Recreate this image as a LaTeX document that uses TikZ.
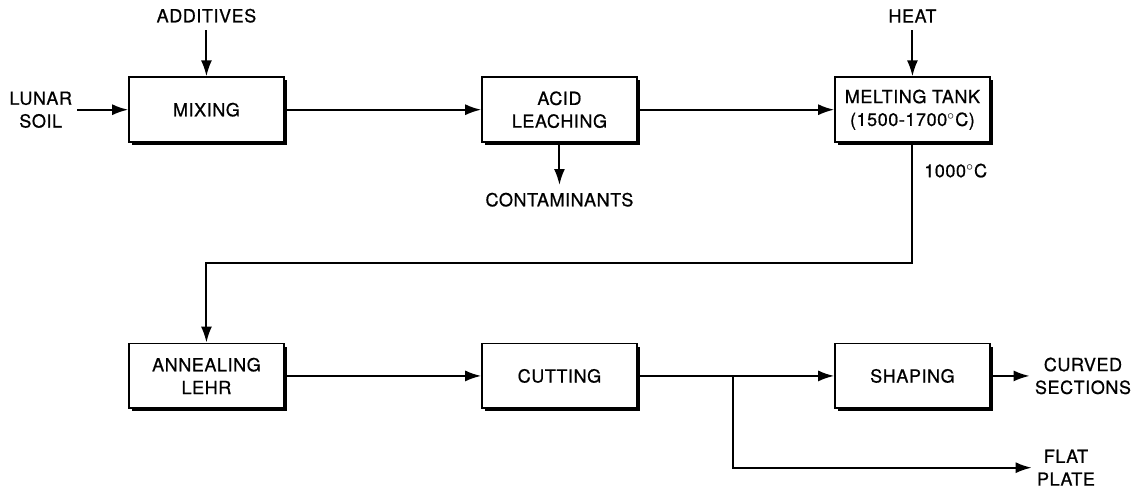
\documentclass[tikz,border=0pt]{standalone}
\usepackage{fontspec}
\setmainfont{TeX Gyre Heros}[UprightFeatures={FakeBold=0.7}, LetterSpace=3]
\usepackage{tikz}
\usetikzlibrary{arrows.meta, positioning, shadows, calc}

\begin{document}
\begin{tikzpicture}[
    font=\fontsize{10.3}{13}\selectfont,
    >={Latex[length=3.2mm, width=2.2mm]},
    node distance=40mm and 39.4mm,
    box/.style={draw, line width=1.1pt, minimum width=31mm, minimum height=13mm, align=center, fill=white,
        drop shadow={shadow xshift=0.6mm, shadow yshift=-0.6mm, fill=black, opacity=1}},
    outlbl/.style={align=center, inner sep=1mm},
    flow/.style={->, line width=1.1pt}
]

% ===== TOP ROW =====
\node[box] (mixing) {MIXING};
\node[box, right=of mixing] (acid) {ACID\\LEACHING};
\node[box, right=of acid] (melt) {MELTING TANK\\(1500-1700$^\circ$C)};

% ===== BOTTOM ROW =====
\node[box, below=of mixing] (anneal) {ANNEALING\\LEHR};
\node[box, right=of anneal] (cut) {CUTTING};
\node[box, right=of cut] (shape) {SHAPING};

% ===== INPUTS AND OUTPUTS =====
\node[outlbl, left=10.2mm of mixing] (soil) {LUNAR\\SOIL};
\node[outlbl, inner sep=1.5mm, above=9.2mm of mixing] (additives) {ADDITIVES};
\node[outlbl, inner sep=1.5mm, below=8.4mm of acid] (contam) {CONTAMINANTS};
\node[outlbl, inner sep=1.5mm, above=9.2mm of melt] (heat) {HEAT};
\node[outlbl, right=7.8mm of shape] (curved) {CURVED\\SECTIONS};

% Branch point after cutting
\coordinate[right=19.2mm of cut.east] (split);
\node[outlbl, below right=18.4mm and 59.8mm of split, anchor=west] (flat) {FLAT\\PLATE};

% ===== CONNECTIONS =====
\draw[flow] (soil) -- (mixing);
\draw[flow] (additives) -- (mixing);
\draw[flow] (mixing) -- (acid);
\draw[flow] (acid) -- (contam);
\draw[flow] (acid) -- (melt);
\draw[flow] (heat) -- (melt);

% Melt down to annealing
\draw[flow] (melt.south) -- node[pos=0.23, right=1mm] (temp) {1000$^\circ$C} ++(0,-24mm) -| (anneal.north);

\draw[flow] (anneal) -- (cut);
\draw[flow] (cut) -- (shape);
\draw[flow] (shape) -- (curved);
\draw[flow] (split) |- (flat);

% Page margins
\useasboundingbox ($(mixing.center)+(-41.4mm,22mm)$) rectangle ($(mixing.center)+(185.8mm,-74.8mm)$);

\end{tikzpicture}
\end{document}
